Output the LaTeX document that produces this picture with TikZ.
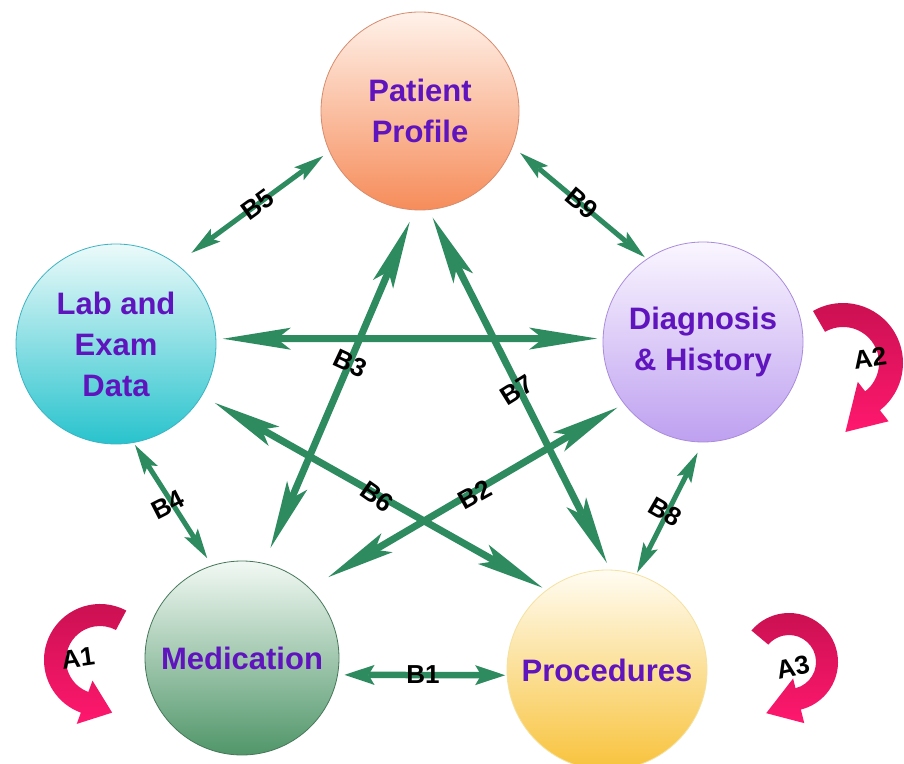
\documentclass[tikz,border=0pt]{standalone}
\usepackage{fontspec}
\setmainfont{Liberation Sans}
\usetikzlibrary{arrows.meta,calc}

% palette
\definecolor{linkgreen}{RGB}{46,139,96}
\definecolor{topictext}{RGB}{96,20,190}
\definecolor{ppTop}{RGB}{255,242,234}
\definecolor{ppBot}{RGB}{246,140,90}
\definecolor{ppLine}{RGB}{215,140,110}
\definecolor{leTop}{RGB}{236,250,250}
\definecolor{leBot}{RGB}{40,195,205}
\definecolor{leLine}{RGB}{60,180,195}
\definecolor{dhTop}{RGB}{250,246,255}
\definecolor{dhBot}{RGB}{190,160,240}
\definecolor{dhLine}{RGB}{170,140,220}
\definecolor{medTop}{RGB}{242,249,244}
\definecolor{medBot}{RGB}{80,150,105}
\definecolor{medLine}{RGB}{70,120,90}
\definecolor{prTop}{RGB}{255,252,242}
\definecolor{prBot}{RGB}{248,195,60}
\definecolor{prLine}{RGB}{245,225,160}
\definecolor{loopDark}{RGB}{200,16,80}
\definecolor{loopLight}{RGB}{255,24,110}

\newcommand\topicfont{\fontsize{31}{41}\selectfont\bfseries}
\newcommand\linkfont{\fontsize{26}{30}\selectfont\bfseries}

\tikzset{
  topic/.style={circle, minimum size=#1, inner sep=0pt, outer sep=0pt,
    line width=0.8pt, shading angle=45, align=center,
    text=topictext, font=\topicfont},
  longlink/.style={draw=linkgreen, line width=7pt,
    >={Stealth[length=68pt,width=22pt,inset=14pt,line width=0pt]}, <->},
  midlink/.style={draw=linkgreen, line width=6.5pt,
    >={Stealth[length=30pt,width=20pt,inset=6pt,line width=0pt]}, <->},
  shortlink/.style={draw=linkgreen, line width=5pt,
    >={Stealth[length=30pt,width=16pt,inset=6pt,line width=0pt]}, <->},
  linklabel/.style={text=black, font=\linkfont, inner sep=1pt},
  loopfill/.style={top color=loopDark, bottom color=loopLight}
}

\begin{document}
\begin{tikzpicture}[x=1pt,y=1pt]
\useasboundingbox (0,0) rectangle (904,763);
\fill[white] (0,0) rectangle (904,763);

% five topic circles
\node[topic=198pt, top color=ppTop, bottom color=ppBot, draw=ppLine] (PP) at (420,652) {Patient\\Profile};
\node[topic=200pt, top color=leTop, bottom color=leBot, draw=leLine] (LE) at (116,419) {Lab and\\Exam\\Data};
\node[topic=200pt, top color=dhTop, bottom color=dhBot, draw=dhLine] (DH) at (703,421) {Diagnosis\\\& History};
\node[topic=194pt, top color=medTop, bottom color=medBot, draw=medLine] (MED) at (242,105) {Medication};
\node[topic=200pt, top color=prTop, bottom color=prBot, draw=prLine] (PROC) at (607,93) {Procedures};

% long links (star and horizontal)
\draw[longlink, shorten <=7pt, shorten >=6pt] (LE.3) -- (DH.178);
\draw[longlink, shorten <=17pt, shorten >=13pt] (MED.77) -- (PP.267);
\draw[longlink, shorten <=9pt, shorten >=8pt] (PP.275) -- (PROC.88);
\draw[longlink, shorten <=15pt, shorten >=5pt] (LE.329) -- (PROC.127);
\draw[longlink, shorten <=22pt, shorten >=8pt] (MED.46) -- (DH.218);

% short links between neighbours
\draw[shortlink, shorten <=19pt, shorten >=8pt] (LE.53) -- (PP.204);
\draw[shortlink, shorten <=10pt, shorten >=3pt] (PP.339) -- (DH.124);
\draw[shortlink, shorten <=3pt, shorten >=9pt] (LE.280) -- (MED.108);
\draw[shortlink, shorten <=12pt, shorten >=2pt] (DH.270) -- (PROC.73);
\draw[midlink, shorten <=7pt, shorten >=2pt] (MED.350) -- (PROC.183);

% link labels
\node[linklabel, rotate=36]  (lb5) at (258,558) {B5};
\node[linklabel, rotate=-40] (lb9) at (582,560) {B9};
\node[linklabel, rotate=-25] (lb3) at (350,400) {B3};
\node[linklabel, rotate=32]  (lb7) at (517,373) {B7};
\node[linklabel, rotate=-35] (lb6) at (377,266) {B6};
\node[linklabel, rotate=29]  (lb2) at (475,268) {B2};
\node[linklabel, rotate=27]  (lb4) at (168,258) {B4};
\node[linklabel, rotate=-30] (lb8) at (665,251) {B8};
\node[linklabel]             (lb1) at (423,88)  {B1};

% self loops
\coordinate (a1c) at (100,103);
\path[loopfill] ($(a1c)+(62:56)$) arc[start angle=62, end angle=250, radius=56pt]
  -- ($(a1c)+(250:68)$) -- ($(a1c)+(283:54)$) -- ($(a1c)+(250:22)$)
  -- ($(a1c)+(250:34)$) arc[start angle=250, end angle=62, radius=34pt] -- cycle;

\coordinate (a2c) at (843,400);
\path[loopfill] ($(a2c)+(120:60)$) arc[start angle=120, end angle=-52, radius=60pt]
  -- ($(a2c)+(-52:74)$) -- ($(a2c)+(-88:69)$) -- ($(a2c)+(-52:24)$)
  -- ($(a2c)+(-52:36)$) arc[start angle=-52, end angle=120, radius=36pt] -- cycle;

\coordinate (a3c) at (789,101);
\path[loopfill] ($(a3c)+(140:49)$) arc[start angle=140, end angle=-76, radius=49pt]
  -- ($(a3c)+(-76:63)$) -- ($(a3c)+(-114:56)$) -- ($(a3c)+(-76:17)$)
  -- ($(a3c)+(-76:27)$) arc[start angle=-76, end angle=140, radius=27pt] -- cycle;

\node[linklabel, rotate=8]  (la1) at (78,105)  {A1};
\node[linklabel, rotate=8]  (la2) at (870,405) {A2};
\node[linklabel, rotate=12] (la3) at (793,96)  {A3};
\end{tikzpicture}
\end{document}
